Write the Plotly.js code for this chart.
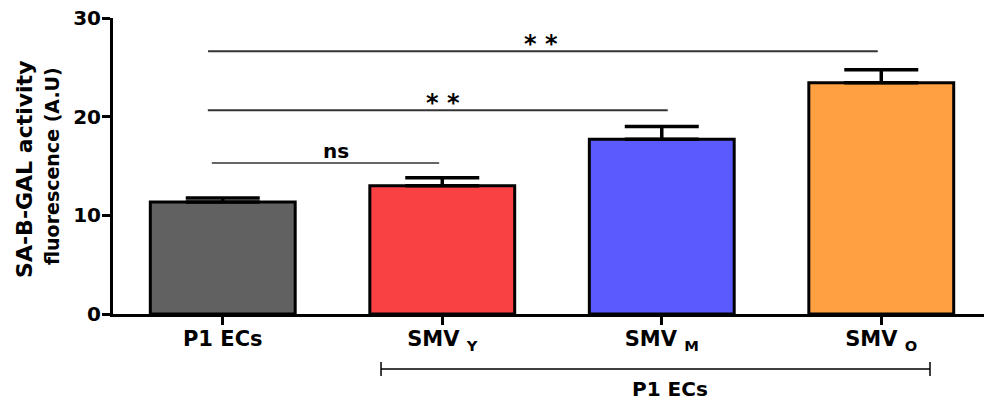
<!DOCTYPE html>
<html>
<head>
<meta charset="utf-8">
<script src="https://cdn.plot.ly/plotly-3.0.1.min.js"></script>
<style>html,body{margin:0;padding:0;background:#fff;}#chart{width:984px;height:400px;}</style>
</head>
<body>
<div id="chart"></div>
<script>
// ---- data ----
const categories = ["P1 ECs", "SMV Y", "SMV M", "SMV O"];
const tickLabels = ["P1 ECs", "SMV <sub>Y</sub>", "SMV <sub>M</sub>", "SMV <sub>O</sub>"];
const meanValues = [11.35, 13.0, 17.7, 23.45];
const errorValues = [0.4, 0.8, 1.3, 1.3];
const barColors = ["#616161", "#F94043", "#5A5AFF", "#FFA142"];
const yTickValues = [0, 10, 20, 30];
const yTitleMain = "SA-B-GAL activity";
const yTitleSub = "fluorescence (A.U)";
const groupLabel = "P1 ECs";
// significance comparisons
const sigX0 = [-0.05, -0.068, -0.067];
const sigX1 = [0.986, 2.027, 2.984];
const sigY = [15.3, 20.65, 26.62];
const sigText = ["ns", "* *", "* *"];
const sigLabelX = [0.514, 1.003, 1.45];

const idx = categories.map((c, i) => i);
const FONT = "DejaVu Sans, Liberation Sans, Arial, sans-serif";

const trace = {
  type: "bar",
  x: idx,
  y: meanValues,
  width: 0.66,
  marker: { color: barColors, line: { color: "#000", width: 3 } },
  error_y: {
    type: "data", symmetric: false, array: errorValues,
    arrayminus: errorValues.map(() => 0),
    color: "#000", thickness: 3.5, width: 37
  },
  hoverinfo: "none"
};

const shapes = [];
const annotations = [];
for (let i = 0; i < sigY.length; i++) {
  shapes.push({ type: "line", xref: "x", yref: "y", x0: sigX0[i], x1: sigX1[i], y0: sigY[i], y1: sigY[i],
    line: { color: "#333", width: i === 0 ? 1.5 : 2 } });
  annotations.push({ xref: "x", yref: "y", x: sigLabelX[i], y: sigY[i], yanchor: "bottom", yshift: i === 0 ? -2 : -9,
    text: sigText[i], showarrow: false,
    font: { family: FONT, size: i === 0 ? 20 : 24, color: "#000", weight: "bold" } });
}
// bracket under x axis
const bx0 = 0.721, bx1 = 3.222, by = -0.186;
shapes.push({ type: "line", xref: "x", yref: "paper", x0: bx0, x1: bx1, y0: by, y1: by, line: { color: "#000", width: 1.5 } });
shapes.push({ type: "line", xref: "x", yref: "paper", x0: bx0, x1: bx0, y0: -0.162, y1: -0.2095, line: { color: "#000", width: 1.5 } });
shapes.push({ type: "line", xref: "x", yref: "paper", x0: bx1, x1: bx1, y0: -0.162, y1: -0.2095, line: { color: "#000", width: 1.5 } });
annotations.push({ xref: "x", yref: "paper", x: 2.038, y: -0.252, yanchor: "middle", text: groupLabel, showarrow: false,
  font: { family: FONT, size: 20, color: "#000", weight: "bold" } });
// y axis title (two lines)
annotations.push({ xref: "paper", yref: "paper", x: -0.101, y: 0.487, xanchor: "center", yanchor: "middle",
  textangle: -90, text: yTitleMain, showarrow: false,
  font: { family: FONT, size: 22, color: "#000", weight: "bold" } });
annotations.push({ xref: "paper", yref: "paper", x: -0.07, y: 0.5, xanchor: "center", yanchor: "middle",
  textangle: -90, text: yTitleSub, showarrow: false,
  font: { family: FONT, size: 19, color: "#000", weight: "bold" } });

const layout = {
  width: 984, height: 400,
  margin: { l: 113, r: 0, t: 18, b: 86, pad: 0 },
  paper_bgcolor: "#fff", plot_bgcolor: "#fff",
  showlegend: false,
  font: { family: FONT, color: "#000" },
  xaxis: {
    type: "linear", range: [-0.5, 3.468], tickvals: idx, ticktext: tickLabels,
    showline: true, linecolor: "#000", linewidth: 3, ticks: "outside", ticklen: 8, tickwidth: 3, tickcolor: "#000",
    showgrid: false, zeroline: false, fixedrange: true, ticklabelstandoff: -4,
    tickfont: { family: FONT, size: 21, color: "#000", weight: "bold" }
  },
  yaxis: {
    range: [0, 30], tickvals: yTickValues, ticktext: yTickValues.map(String),
    showline: true, linecolor: "#000", linewidth: 3, ticks: "outside", ticklen: 8, tickwidth: 3, tickcolor: "#000",
    showgrid: false, zeroline: false, fixedrange: true, ticklabelstandoff: -3,
    tickfont: { family: FONT, size: 20, color: "#000", weight: "bold" }
  },
  shapes: shapes,
  annotations: annotations
};

Plotly.newPlot("chart", [trace], layout, { staticPlot: true, displayModeBar: false });
</script>
</body>
</html>
